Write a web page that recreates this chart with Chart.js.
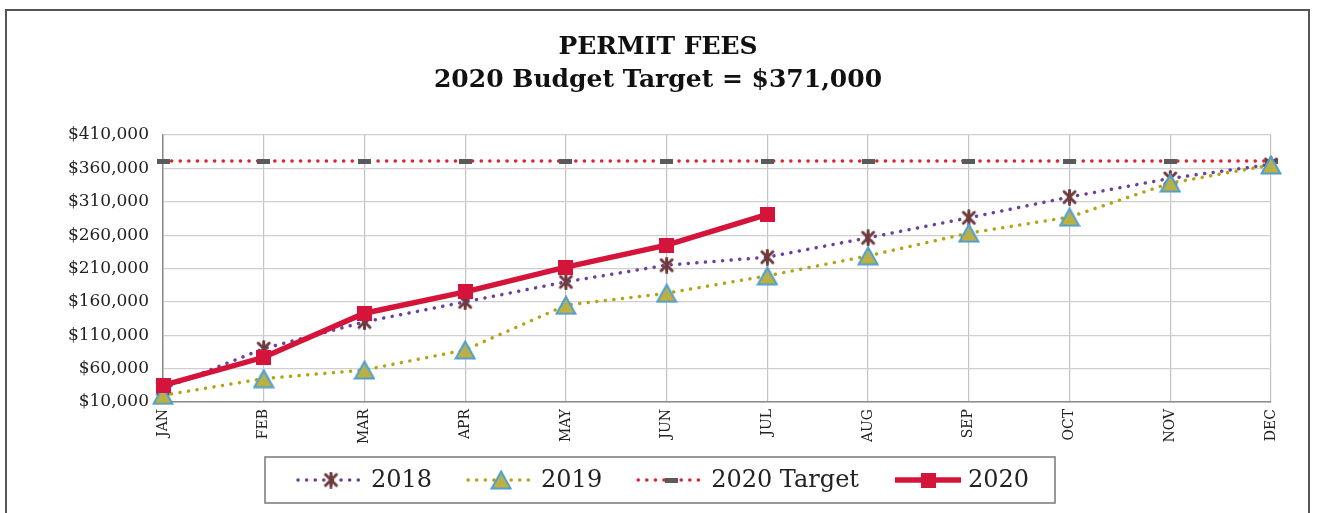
<!DOCTYPE html>
<html>
<head>
<meta charset="utf-8">
<script src="https://cdn.jsdelivr.net/npm/chart.js@4.4.1/dist/chart.umd.min.js"></script>
<style>
    html, body { margin: 0; padding: 0; background: #fff; }
    #frame { position: absolute; left: 5px; top: 9px; width: 1301px; height: 520px; border: 2px solid #555; border-bottom: none; }
    #wrap { position: absolute; left: 0; top: 0; width: 1317px; height: 513px; }
</style>
</head>
<body>
<div id="frame"></div>
<div id="wrap"><canvas id="feesChart"></canvas></div>
<script>
// 데이터
const months = ['JAN', 'FEB', 'MAR', 'APR', 'MAY', 'JUN', 'JUL', 'AUG', 'SEP', 'OCT', 'NOV', 'DEC'];
const fees2018 = [30000, 90000, 130000, 160000, 190000, 215000, 227000, 256000, 286000, 317000, 345000, 366000];
const fees2019 = [20000, 45000, 58000, 88000, 155000, 173000, 199000, 229000, 263000, 287000, 338000, 365000];
const target2020 = [371000, 371000, 371000, 371000, 371000, 371000, 371000, 371000, 371000, 371000, 371000, 371000];
const fees2020 = [35000, 77000, 143000, 175000, 212000, 245000, 291000];
const yMin = 10000;
const yMax = 410000;
const yStep = 50000;
const titleLines = ['PERMIT FEES', '2020 Budget Target = $371,000'];

// 마커 이미지
function makeStar(size, color) {
    const c = document.createElement('canvas');
    c.width = size; c.height = size;
    const g = c.getContext('2d');
    g.strokeStyle = color;
    g.lineWidth = 3;
    g.lineCap = 'round';
    const m = 3;
    g.beginPath();
    g.moveTo(m, m); g.lineTo(size - m, size - m);
    g.moveTo(size - m, m); g.lineTo(m, size - m);
    g.moveTo(size / 2, 1.5); g.lineTo(size / 2, size - 1.5);
    g.stroke();
    return c;
}

function makeTriangle(w, h) {
    const c = document.createElement('canvas');
    c.width = w; c.height = h;
    const g = c.getContext('2d');
    const grad = g.createLinearGradient(0, 0, 0, h);
    grad.addColorStop(0, '#9fb07a');
    grad.addColorStop(1, '#c9b12c');
    g.fillStyle = grad;
    g.strokeStyle = '#4f9fcf';
    g.lineWidth = 2;
    g.beginPath();
    g.moveTo(w / 2, 1.5);
    g.lineTo(w - 1.5, h - 1.5);
    g.lineTo(1.5, h - 1.5);
    g.closePath();
    g.fill();
    g.stroke();
    return c;
}

function makeSquare(size, color) {
    const c = document.createElement('canvas');
    c.width = size; c.height = size;
    const g = c.getContext('2d');
    g.fillStyle = color;
    g.fillRect(0, 0, size, size);
    return c;
}

function makeDash(w, h, color) {
    const c = document.createElement('canvas');
    c.width = w; c.height = h;
    const g = c.getContext('2d');
    g.fillStyle = color;
    g.fillRect(0, 0, w, h);
    return c;
}

const starMark = makeStar(17, '#6e3a3e');
const triMark = makeTriangle(22, 20);
const squareMark = makeSquare(15, '#d4143a');
const dashMark = makeDash(13, 5, '#5a5a5a');

const dotted = [0.1, 8.5];

// 제목 그리기
const titlePlugin = {
    id: 'titleText',
    afterDraw(chart) {
        const ctx = chart.ctx;
        ctx.save();
        ctx.fillStyle = '#111';
        ctx.font = 'bold 25px "DejaVu Serif"';
        ctx.textAlign = 'center';
        ctx.textBaseline = 'middle';
        ctx.fillText(titleLines[0], 658, 47);
        ctx.fillText(titleLines[1], 658, 80);
        ctx.restore();
    }
};

// 범례 (선 + 마커)
const legendPlugin = {
    id: 'lineLegend',
    afterDraw(chart) {
        const ctx = chart.ctx;
        const box = { left: 265, top: 457, right: 1055, bottom: 503 };
        ctx.save();
        ctx.strokeStyle = '#777';
        ctx.lineWidth = 1.5;
        ctx.strokeRect(box.left, box.top, box.right - box.left, box.bottom - box.top);

        ctx.font = '24px "DejaVu Serif"';
        ctx.textBaseline = 'middle';
        ctx.textAlign = 'left';
        const cy = (box.top + box.bottom) / 2;
        const sampleW = 66;
        let x = box.left + 33;
        chart.data.datasets.forEach(ds => {
            ctx.save();
            ctx.strokeStyle = ds.borderColor;
            ctx.lineWidth = ds.borderWidth;
            ctx.lineCap = ds.borderCapStyle || 'butt';
            ctx.setLineDash(ds.borderDash || []);
            ctx.beginPath();
            ctx.moveTo(x, cy);
            ctx.lineTo(x + sampleW, cy);
            ctx.stroke();
            ctx.restore();
            const img = ds.pointStyle;
            ctx.drawImage(img, x + sampleW / 2 - img.width / 2, cy - img.height / 2);
            ctx.fillStyle = '#222';
            ctx.fillText(ds.label, x + sampleW + 7, cy + 1);
            x += sampleW + 7 + ctx.measureText(ds.label).width + 36;
        });
        ctx.restore();
    }
};

const ctx = document.getElementById('feesChart').getContext('2d');
new Chart(ctx, {
    type: 'line',
    data: {
        labels: months,
        datasets: [
            {
                label: '2018',
                data: fees2018,
                borderColor: '#6c3f9e',
                borderWidth: 3.5,
                borderDash: dotted,
                borderCapStyle: 'round',
                pointStyle: starMark,
                pointRadius: 8,
                order: 3,
                clip: false
            },
            {
                label: '2019',
                data: fees2019,
                borderColor: '#b5a316',
                borderWidth: 3.5,
                borderDash: dotted,
                borderCapStyle: 'round',
                pointStyle: triMark,
                pointRadius: 9,
                order: 2,
                clip: false
            },
            {
                label: '2020 Target',
                data: target2020,
                borderColor: '#e3202e',
                borderWidth: 3.5,
                borderDash: dotted,
                borderCapStyle: 'round',
                pointStyle: dashMark,
                pointRadius: 6,
                order: 4,
                clip: false
            },
            {
                label: '2020',
                data: fees2020,
                borderColor: '#d4143a',
                borderWidth: 5.5,
                pointStyle: squareMark,
                pointRadius: 7,
                order: 1,
                clip: false
            }
        ]
    },
    options: {
        responsive: true,
        maintainAspectRatio: false,
        animation: false,
        events: [],
        layout: { padding: { top: 135, left: 0, right: 46, bottom: 61 } },
        elements: { line: { tension: 0 } },
        plugins: {
            legend: { display: false },
            title: { display: false },
            tooltip: { enabled: false }
        },
        scales: {
            x: {
                offset: false,
                afterFit: s => { s.height = 50; },
                grid: { color: '#c4c4c4', lineWidth: 1.2, drawTicks: false },
                border: { color: '#8a8a8a', width: 1.5 },
                ticks: {
                    minRotation: 90,
                    maxRotation: 90,
                    padding: 7,
                    color: '#222',
                    font: { family: '"DejaVu Serif"', size: 14 }
                }
            },
            y: {
                min: yMin,
                max: yMax,
                afterFit: s => { s.width = 163; },
                grid: { color: '#cfcfcf', lineWidth: 1.2, drawTicks: false },
                border: { color: '#8a8a8a', width: 1.5 },
                ticks: {
                    stepSize: yStep,
                    padding: 14,
                    color: '#222',
                    font: { family: '"DejaVu Serif"', size: 17 },
                    callback: v => '$' + v.toLocaleString('en-US')
                }
            }
        }
    },
    plugins: [titlePlugin, legendPlugin]
});
</script>
</body>
</html>
